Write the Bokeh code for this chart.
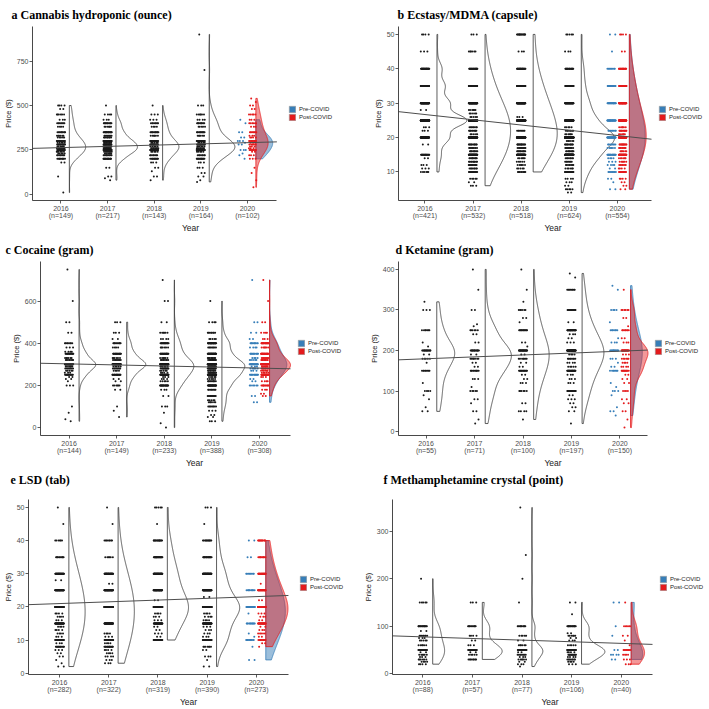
import numpy as np
from bokeh.plotting import figure
from bokeh.layouts import column, row
from bokeh.models import Range1d, FixedTicker, Legend, LegendItem, Title
from bokeh.embed import file_html
from bokeh.resources import INLINE

YEARS = [2016, 2017, 2018, 2019, 2020]
BLUE = "#377EB8"
RED = "#E41A1C"

# ---------------- a: Cannabis hydroponic (ounce) ----------------  (price, count)
a_name = "Cannabis hydroponic (ounce)"
a_n = [149, 217, 143, 164, 102]
a_2016 = [(500, 4), (480, 2), (450, 6), (420, 3), (400, 8), (380, 4), (350, 10), (330, 6), (320, 5), (300, 18), (290, 5), (280, 12), (270, 6), (260, 8), (250, 19), (240, 6), (230, 5), (220, 8), (200, 10), (180, 2), (100, 1), (10, 1)]
a_2017 = [(500, 1), (450, 4), (420, 3), (400, 12), (380, 6), (350, 18), (330, 8), (320, 8), (300, 27), (290, 8), (280, 20), (270, 10), (260, 12), (250, 32), (240, 8), (230, 6), (220, 10), (200, 18), (150, 2), (100, 2), (90, 1), (80, 1)]
a_2018 = [(500, 1), (450, 3), (420, 3), (400, 8), (380, 4), (350, 12), (330, 6), (300, 18), (290, 5), (280, 14), (270, 5), (260, 8), (250, 22), (240, 5), (220, 8), (200, 12), (180, 3), (150, 2), (130, 1), (100, 2), (80, 1)]
a_2019 = [(900, 1), (700, 1), (500, 3), (450, 6), (420, 4), (400, 10), (380, 5), (350, 12), (330, 6), (300, 20), (290, 5), (280, 14), (270, 6), (260, 8), (250, 24), (240, 5), (220, 8), (200, 14), (180, 3), (150, 3), (120, 2), (100, 2), (80, 1), (70, 1)]
a_pre = [(420, 1), (400, 1), (350, 2), (320, 2), (300, 3), (290, 1), (280, 2), (250, 3), (230, 1), (220, 1), (200, 1)]
a_post = [(540, 1), (520, 1), (500, 2), (480, 2), (450, 5), (420, 3), (400, 6), (380, 3), (350, 8), (330, 3), (320, 4), (300, 11), (290, 3), (280, 6), (270, 3), (260, 3), (250, 8), (240, 2), (220, 3), (200, 3), (150, 1), (120, 1), (80, 1), (40, 1)]
a_fit = [263, 291]          # fitted price at 2016 and at 2020
a_yticks = [0, 250, 500, 750]

# ---------------- b: Ecstasy/MDMA (capsule) ----------------
b_name = "Ecstasy/MDMA (capsule)"
b_n = [421, 532, 518, 624, 554]
b_2016 = [(50, 4), (45, 3), (40, 28), (35, 45), (30, 70), (28, 2), (25, 162), (23, 3), (22, 3), (20, 65), (18, 2), (15, 20), (14, 2), (12, 3), (11, 3), (10, 6)]
b_2017 = [(50, 3), (45, 6), (40, 22), (35, 45), (30, 70), (28, 6), (27, 5), (26, 5), (25, 100), (23, 8), (22, 10), (21, 5), (20, 90), (18, 12), (17, 10), (16, 10), (15, 55), (14, 10), (13, 10), (12, 12), (11, 8), (10, 20), (8, 5), (7, 2), (6, 3)]
b_2018 = [(50, 15), (45, 3), (40, 25), (35, 45), (30, 75), (26, 3), (25, 103), (22, 8), (20, 110), (18, 15), (17, 12), (16, 12), (15, 60), (14, 6), (13, 5), (12, 6), (11, 5), (10, 10)]
b_2019 = [(50, 5), (45, 3), (40, 18), (35, 25), (30, 55), (25, 95), (23, 5), (22, 8), (21, 6), (20, 204), (19, 6), (18, 12), (17, 12), (16, 10), (15, 85), (14, 8), (13, 7), (12, 8), (11, 6), (10, 30), (8, 4), (7, 3), (6, 2), (5, 5), (4, 2)]
b_pre = [(50, 2), (45, 1), (40, 8), (35, 14), (30, 22), (25, 30), (22, 8), (20, 35), (18, 8), (17, 6), (15, 20), (14, 4), (13, 3), (12, 4), (11, 2), (10, 8), (8, 2), (7, 1), (5, 2)]
b_post = [(50, 4), (45, 2), (40, 18), (35, 28), (30, 48), (25, 62), (23, 6), (22, 12), (21, 6), (20, 70), (18, 14), (17, 10), (16, 6), (15, 40), (14, 6), (13, 6), (12, 8), (11, 4), (10, 14), (8, 4), (7, 2), (6, 2), (5, 2)]
b_fit = [26.7, 20.6]
b_yticks = [10, 20, 30, 40, 50]

# ---------------- c: Cocaine (gram) ----------------
c_name = "Cocaine (gram)"
c_n = [144, 149, 233, 388, 308]
c_2016 = [(750, 1), (600, 1), (500, 2), (450, 2), (400, 8), (380, 3), (360, 4), (350, 16), (330, 6), (320, 8), (300, 45), (290, 6), (280, 8), (270, 5), (260, 3), (250, 14), (240, 2), (230, 2), (220, 1), (200, 3), (100, 1), (70, 1), (40, 1), (30, 1)]
c_2017 = [(500, 3), (450, 3), (420, 2), (400, 10), (380, 4), (350, 18), (330, 6), (320, 8), (300, 45), (290, 5), (280, 8), (270, 4), (250, 18), (230, 2), (220, 2), (200, 6), (180, 2), (100, 1), (80, 1), (50, 1)]
c_2018 = [(700, 1), (600, 2), (500, 2), (450, 6), (420, 4), (400, 17), (380, 6), (350, 22), (330, 6), (320, 8), (300, 55), (290, 6), (280, 12), (270, 5), (260, 4), (250, 35), (240, 3), (230, 3), (220, 5), (200, 20), (180, 3), (150, 2), (100, 3), (70, 1), (20, 1), (0, 1)]
c_2019 = [(600, 1), (500, 4), (450, 8), (420, 5), (400, 30), (380, 8), (350, 35), (330, 10), (320, 12), (300, 75), (290, 10), (280, 20), (270, 8), (260, 8), (250, 55), (240, 5), (230, 5), (220, 10), (200, 30), (180, 8), (150, 12), (130, 5), (120, 6), (100, 8), (80, 3), (60, 2), (50, 2), (30, 3)]
c_pre = [(700, 1), (500, 2), (450, 2), (420, 2), (400, 10), (380, 4), (350, 12), (330, 4), (320, 5), (300, 20), (290, 3), (280, 6), (270, 3), (250, 12), (230, 2), (220, 2), (200, 6), (150, 2), (120, 2)]
c_post = [(700, 1), (600, 1), (500, 2), (450, 4), (420, 3), (400, 20), (380, 6), (350, 25), (330, 8), (320, 10), (300, 50), (290, 6), (280, 12), (270, 6), (260, 5), (250, 25), (240, 3), (220, 4), (200, 10), (180, 3), (160, 2), (150, 2)]
c_fit = [302, 282]
c_yticks = [0, 200, 400, 600]

# ---------------- d: Ketamine (gram) ----------------
d_name = "Ketamine (gram)"
d_n = [55, 71, 100, 197, 150]
d_2016 = [(320, 1), (300, 3), (250, 7), (220, 1), (210, 1), (200, 16), (190, 2), (180, 5), (170, 1), (150, 8), (120, 1), (100, 4), (90, 1), (80, 1), (60, 1), (50, 2)]
d_2017 = [(400, 1), (350, 1), (300, 2), (265, 1), (260, 1), (250, 6), (240, 2), (220, 2), (200, 16), (190, 2), (180, 7), (170, 2), (160, 2), (150, 10), (130, 3), (110, 1), (100, 5), (80, 2), (70, 1), (50, 2), (30, 1), (20, 1)]
d_2018 = [(400, 1), (350, 1), (320, 1), (300, 6), (280, 2), (270, 1), (250, 13), (220, 2), (210, 1), (200, 26), (190, 2), (180, 7), (170, 2), (160, 2), (150, 13), (140, 2), (130, 2), (120, 3), (100, 6), (70, 2), (50, 4), (30, 1)]
d_2019 = [(390, 1), (380, 1), (350, 8), (300, 14), (270, 2), (250, 28), (240, 3), (230, 2), (220, 3), (200, 55), (190, 4), (180, 8), (170, 4), (160, 5), (150, 24), (140, 3), (130, 3), (120, 3), (100, 14), (90, 2), (80, 3), (70, 2), (60, 2), (50, 2), (20, 1)]
d_pre = [(360, 1), (350, 1), (300, 4), (270, 1), (250, 7), (230, 1), (220, 3), (200, 14), (180, 3), (170, 1), (160, 2), (150, 7), (120, 1), (110, 1), (100, 3), (90, 1), (60, 1), (50, 2), (40, 1)]
d_post = [(350, 1), (300, 6), (280, 2), (260, 1), (250, 8), (230, 2), (220, 3), (200, 25), (190, 3), (180, 6), (170, 4), (160, 4), (150, 12), (140, 2), (130, 2), (120, 2), (100, 4), (80, 2), (70, 2), (50, 2), (30, 1), (10, 1)]
d_fit = [179.7, 198.4]
d_yticks = [0, 100, 200, 300, 400]

# ---------------- e: LSD (tab) ----------------
e_name = "LSD (tab)"
e_n = [282, 322, 319, 390, 273]
e_2016 = [(50, 1), (45, 1), (40, 6), (35, 10), (30, 35), (28, 2), (25, 45), (20, 60), (18, 4), (17, 4), (16, 3), (15, 40), (14, 4), (13, 4), (12, 4), (11, 3), (10, 30), (9, 3), (8, 12), (7, 3), (6, 2), (5, 2), (4, 1), (3, 1), (2, 2)]
e_2017 = [(50, 1), (45, 1), (40, 8), (35, 6), (30, 40), (27, 2), (25, 50), (20, 80), (15, 50), (12, 4), (11, 3), (10, 40), (9, 4), (8, 15), (7, 4), (6, 4), (5, 4), (4, 3), (3, 3)]
e_2018 = [(50, 5), (45, 1), (40, 15), (35, 22), (30, 45), (25, 45), (22, 2), (20, 100), (18, 4), (17, 3), (16, 3), (15, 40), (14, 2), (13, 2), (12, 3), (11, 2), (10, 25)]
e_2019 = [(50, 3), (45, 1), (40, 12), (35, 18), (30, 45), (25, 55), (23, 2), (20, 120), (18, 4), (17, 4), (16, 4), (15, 50), (14, 3), (13, 3), (12, 3), (11, 3), (10, 45), (8, 7), (7, 2), (5, 3), (4, 1), (2, 2)]
e_pre = [(40, 2), (35, 2), (30, 8), (25, 10), (20, 20), (18, 1), (15, 12), (12, 1), (11, 1), (10, 10), (8, 1), (4, 2)]
e_post = [(40, 12), (35, 10), (30, 25), (27, 1), (25, 30), (22, 2), (20, 60), (18, 3), (17, 3), (16, 2), (15, 30), (14, 2), (13, 3), (12, 5), (11, 2), (10, 10), (9, 2), (8, 1)]
e_fit = [21.0, 23.1]
e_yticks = [0, 10, 20, 30, 40, 50]

# ---------------- f: Methamphetamine crystal (point) ----------------
f_name = "Methamphetamine crystal (point)"
f_n = [88, 57, 77, 106, 40]
f_2016 = [(200, 1), (150, 5), (100, 15), (90, 2), (80, 8), (75, 3), (70, 5), (60, 6), (50, 18), (45, 2), (40, 6), (35, 3), (30, 6), (25, 4), (20, 4)]
f_2017 = [(150, 3), (100, 10), (80, 4), (70, 2), (60, 3), (50, 20), (45, 2), (40, 5), (30, 8)]
f_2018 = [(350, 1), (250, 1), (200, 1), (150, 1), (100, 10), (80, 5), (70, 2), (60, 6), (50, 25), (45, 2), (40, 8), (35, 3), (30, 6), (25, 2), (20, 3), (15, 1)]
f_2019 = [(150, 2), (125, 1), (100, 15), (85, 2), (80, 6), (75, 2), (70, 3), (60, 5), (50, 35), (45, 4), (40, 12), (35, 4), (30, 8), (25, 4), (20, 3)]
f_pre = [(150, 2), (100, 1), (80, 1), (50, 2), (40, 4), (30, 2)]
f_post = [(150, 1), (100, 5), (80, 2), (70, 1), (60, 1), (50, 8), (40, 4), (30, 3), (20, 3)]
f_fit = [77.5, 63.8]
f_yticks = [0, 100, 200, 300]


def expand(pairs):
    return np.repeat([float(v) for v, c in pairs], [c for v, c in pairs])


def bw_nrd0(x):
    sd = np.std(x, ddof=1)
    q75, q25 = np.percentile(x, [75, 25])
    lo = min(sd, (q75 - q25) / 1.34) if q75 > q25 else sd
    if lo <= 0:
        lo = 1.0
    return 0.9 * lo * len(x) ** -0.2


def kde(x, adjust, npts=300):
    bw = bw_nrd0(x) * adjust
    grid = np.linspace(x.min(), x.max(), npts)
    d = np.exp(-0.5 * ((grid[:, None] - x[None, :]) / bw) ** 2).sum(1) / (len(x) * bw * np.sqrt(2 * np.pi))
    return grid, d


def jitter(n, center, half):
    k = np.arange(n)
    return center + (((k * 0.6180339887 + 0.31) % 1.0) - 0.5) * 2 * half


def outline(base, g, d, scale):
    xs = np.concatenate([[base], base + scale * d, [base]])
    ys = np.concatenate([[g[0]], g, [g[-1]]])
    return xs, ys


def build(letter, name, groups, pre, post, n, fit, yticks, adjust, widths, off, xlim,
          W, H, bl, bt, bb, axis_end, toff, spacer):
    X0, X1 = xlim
    br = 2
    vals = [expand(g) for g in groups]
    vpre, vpost = expand(pre), expand(post)
    allv = np.concatenate(vals + [vpre, vpost])
    lo, hi = allv.min(), allv.max()
    pad = 0.05 * (hi - lo)
    frame_w = W - bl - br
    frame_h = H - bt - bb
    x_ext = X0 + (X1 - X0) * frame_w / (axis_end - bl)
    p = figure(width=W, height=H, x_range=Range1d(X0, x_ext), y_range=Range1d(lo - pad, hi + pad),
               output_backend="svg", toolbar_location=None,
               min_border_left=bl, min_border_right=br, min_border_top=bt, min_border_bottom=bb)
    p.grid.visible = False
    p.outline_line_color = None

    for yr, v, a, w in zip(YEARS[:4], vals, adjust[:4], widths[:4]):
        g, d = kde(v, a)
        xs, ys = outline(yr + off, g, d, w / d.max())
        p.patch(xs, ys, fill_color=None, line_color="#333333", line_width=0.8)
    for yr, v in zip(YEARS[:4], vals):
        p.scatter(jitter(len(v), yr, 0.09), v, size=2, color="#1a1a1a", line_color=None)

    gp, dp = kde(vpre, adjust[4])
    gq, dq = kde(vpost, adjust[4])
    s20 = widths[4] / max(dp.max(), dq.max())
    xs, ys = outline(2020 + off, gp, dp, s20)
    p.patch(xs, ys, fill_color=BLUE, fill_alpha=0.5, line_color=BLUE, line_width=0.8)
    xs, ys = outline(2020 + off, gq, dq, s20)
    p.patch(xs, ys, fill_color=RED, fill_alpha=0.45, line_color=RED, line_width=0.8)
    p.scatter(jitter(len(vpre), 2020 - 0.12, 0.09), vpre, size=2, color=BLUE, line_color=None)
    p.scatter(jitter(len(vpost), 2020 + 0.11, 0.08), vpost, size=2, color=RED, line_color=None)

    slope = (fit[1] - fit[0]) / 4.0
    p.line([X0, X1], [fit[0] + slope * (X0 - 2016), fit[0] + slope * (X1 - 2016)],
           line_color="#4d4d4d", line_width=1)

    nan = np.array([np.nan])
    r1 = p.quad(left=nan, right=nan, top=nan, bottom=nan, fill_color=BLUE, line_color="#9a9a9a", line_width=0.6)
    r2 = p.quad(left=nan, right=nan, top=nan, bottom=nan, fill_color=RED, line_color="#9a9a9a", line_width=0.6)
    leg = Legend(items=[LegendItem(label="Pre-COVID", renderers=[r1]),
                        LegendItem(label="Post-COVID", renderers=[r2])],
                 location=(axis_end - bl + 7, frame_h / 2 - 8),
                 border_line_color=None, background_fill_alpha=0,
                 label_text_font="Liberation Sans", label_text_font_size="6px",
                 label_text_color="#1a1a1a", glyph_width=8, glyph_height=8, label_height=8,
                 spacing=0, padding=0, margin=0, label_standoff=3)
    p.add_layout(leg)

    p.xaxis.ticker = FixedTicker(ticks=YEARS, minor_ticks=[])
    p.xaxis.bounds = (X0, X1)
    p.xaxis.major_label_overrides = {y: f"{y}\n(n={k})" for y, k in zip(YEARS, n)}
    p.yaxis.ticker = FixedTicker(ticks=yticks, minor_ticks=[])
    p.xaxis.axis_label = "Year"
    p.yaxis.axis_label = "Price ($)"
    for ax in (p.xaxis[0], p.yaxis[0]):
        ax.axis_line_color = "#1a1a1a"
        ax.axis_line_width = 0.8
        ax.major_tick_line_color = "#333333"
        ax.major_tick_line_width = 0.8
        ax.major_tick_out = 3
        ax.major_tick_in = 0
        ax.minor_tick_line_color = None
        ax.major_label_text_font = "Liberation Sans"
        ax.major_label_text_font_size = "7px"
        ax.major_label_text_color = "#4d4d4d"
        ax.major_label_text_line_height = 1.05
        ax.major_label_standoff = 1
        ax.axis_label_text_font = "Liberation Sans"
        ax.axis_label_text_font_style = "normal"
        ax.axis_label_text_color = "#1a1a1a"
        ax.axis_label_standoff = 1
    p.xaxis.axis_label_text_font_size = "8.5px"
    p.yaxis.axis_label_text_font_size = "7.5px"

    p.title.text = ""
    p.title.standoff = 0
    if spacer:
        p.add_layout(Title(text=" ", text_font_size=f"{spacer}px", standoff=0), "above")
    p.add_layout(Title(text=f"{letter}  {name}", text_font="Liberation Serif",
                       text_font_style="bold", text_font_size="12px", align="left",
                       offset=toff, text_color="#000000", standoff=0 if spacer else 10), "above")
    return p


pa = build("a", a_name, [a_2016, a_2017, a_2018, a_2019], a_pre, a_post, a_n, a_fit, a_yticks,
           [1.5, 1.5, 1.5, 1.5, 1.3], [0.35, 0.46, 0.35, 0.55, 0.36], 0.18, (2015.39, 2020.63),
           350, 235, 26, 25, 35, 275, -21, 0)
pb = build("b", b_name, [b_2016, b_2017, b_2018, b_2019], b_pre, b_post, b_n, b_fit, b_yticks,
           [1.3, 2.2, 2.2, 1.4, 2.2], [0.62, 0.53, 0.5, 0.69, 0.35], 0.25, (2015.45, 2020.71),
           359, 235, 48, 25, 35, 301, -1, 0)
pc = build("c", c_name, [c_2016, c_2017, c_2018, c_2019], c_pre, c_post, c_n, c_fit, c_yticks,
           [1.3, 1.3, 1.3, 1.3, 1.3], [0.35, 0.4, 0.41, 0.48, 0.44], 0.21, (2015.40, 2020.65),
           350, 235, 40, 25, 33, 290, -35, 0)
pd_ = build("d", d_name, [d_2016, d_2017, d_2018, d_2019], d_pre, d_post, d_n, d_fit, d_yticks,
            [1.8, 1.8, 1.8, 1.5, 1.5], [0.37, 0.54, 0.32, 0.45, 0.36], 0.22, (2015.43, 2020.57),
            359, 235, 48, 25, 33, 297, -3, 0)
pe = build("e", e_name, [e_2016, e_2017, e_2018, e_2019], e_pre, e_post, e_n, e_fit, e_yticks,
           [3, 3, 1.6, 1.5, 2], [0.33, 0.33, 0.43, 0.47, 0.45], 0.19, (2015.37, 2020.65),
           350, 239, 23, 28, 29, 287, -18, 10)
pf = build("f", f_name, [f_2016, f_2017, f_2018, f_2019], f_pre, f_post, f_n, f_fit, f_yticks,
           [1.3, 1.3, 1.3, 1.3, 1.3], [0.24, 0.4, 0.22, 0.47, 0.27], 0.2, (2015.39, 2020.63),
           359, 239, 42, 28, 29, 302, -9, 10)

layout = column(row(pa, pb), row(pc, pd_), row(pe, pf))
open("out.html", "w").write(file_html(layout, INLINE))
